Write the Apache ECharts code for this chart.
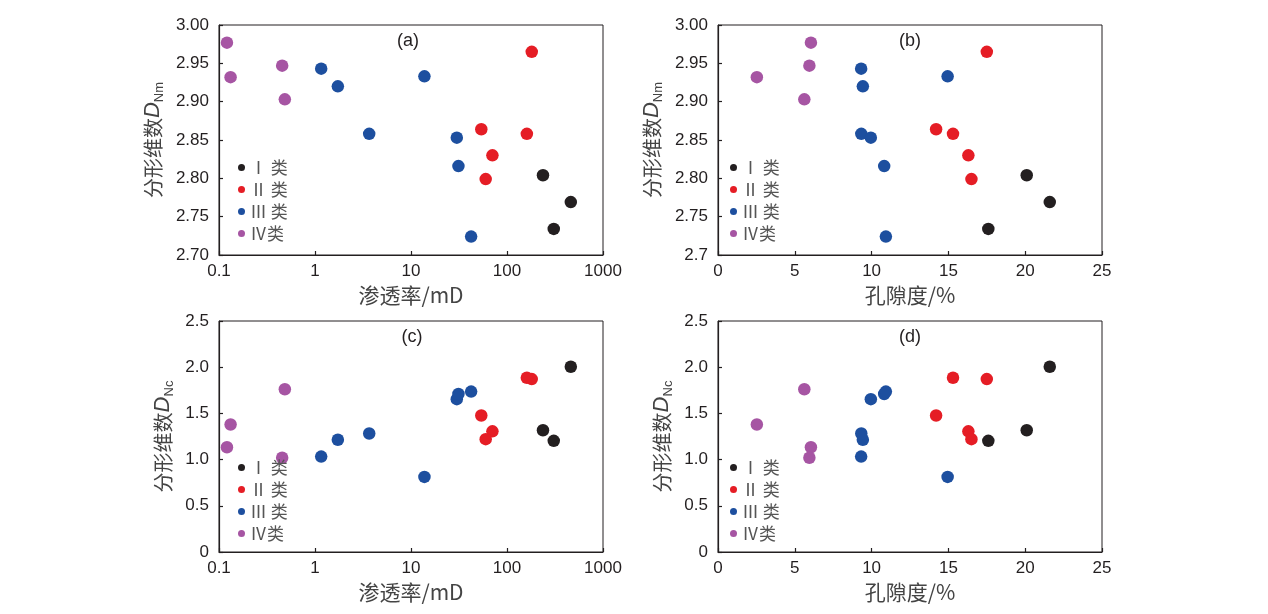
<!DOCTYPE html>
<html>
<head>
<meta charset="utf-8">
<script src="https://cdn.jsdelivr.net/npm/echarts@6/dist/echarts.min.js"></script>
<style>
  html, body { margin: 0; padding: 0; background: #fff; }
  #main { width: 1268px; height: 614px; }
</style>
</head>
<body>
<div id="main"></div>
<script>
// class names and colours
var classNames = ['Ⅰ 类', 'Ⅱ 类', 'Ⅲ 类', 'Ⅳ类'];
var classColors = ['#231f20', '#e51d25', '#1d4f9f', '#a655a3'];

// permeability (mD), porosity (%), DNm, DNc per class
var permI = [237, 462, 307];
var poroI = [20.1, 21.6, 17.6];
var dnmI = [2.804, 2.769, 2.734];
var dncI = [1.318, 2.005, 1.203];

var permII = [181, 54, 161, 70.5, 60];
var poroII = [17.5, 14.2, 15.3, 16.3, 16.5];
var dnmII = [2.965, 2.864, 2.858, 2.830, 2.799];
var dncII = [1.871, 1.477, 1.886, 1.306, 1.221];

var permIII = [1.16, 1.73, 13.8, 3.67, 30, 31.2, 42.3];
var poroIII = [9.32, 9.43, 14.95, 9.33, 9.95, 10.82, 10.93];
var dnmIII = [2.943, 2.920, 2.933, 2.858, 2.853, 2.816, 2.724];
var dncIII = [1.033, 1.215, 0.813, 1.282, 1.654, 1.71, 1.736];

var permIV = [0.121, 0.132, 0.455, 0.485];
var poroIV = [6.05, 2.53, 5.95, 5.62];
var dnmIV = [2.977, 2.932, 2.947, 2.903];
var dncIV = [1.134, 1.38, 1.02, 1.761];

var permAll = [permI, permII, permIII, permIV];
var poroAll = [poroI, poroII, poroIII, poroIV];
var dnmAll = [dnmI, dnmII, dnmIII, dnmIV];
var dncAll = [dncI, dncII, dncIII, dncIV];

var panelLabels = ['(a)', '(b)', '(c)', '(d)'];

var numFont = 'Liberation Sans, Arial, Noto Sans CJK SC, sans-serif';
var cjkFont = 'Noto Sans CJK SC, Liberation Sans, sans-serif';

function zip(xs, ys) {
  var out = [];
  for (var i = 0; i < xs.length; i++) out.push([xs[i], ys[i]]);
  return out;
}

var grids = [
  {left: 219, top: 25, width: 384, height: 230},
  {left: 718, top: 25, width: 384, height: 230},
  {left: 219, top: 321, width: 384, height: 231},
  {left: 718, top: 321, width: 384, height: 231}
];

var axisLineStyle = {color: '#231f20', width: 1.2};

function xAxisFor(i) {
  var common = {
    gridIndex: i,
    nameLocation: 'middle',
    nameGap: 30,
    nameTextStyle: {fontSize: 21, color: '#444', fontFamily: cjkFont},
    axisLine: {show: true, onZero: false, lineStyle: axisLineStyle},
    axisTick: {show: true, inside: true, length: 4, lineStyle: axisLineStyle},
    axisLabel: {fontSize: 17, color: '#231f20', fontFamily: numFont, margin: 8},
    splitLine: {show: false}
  };
  if (i % 2 == 0) {
    common.type = 'log';
    common.logBase = 10;
    common.min = 0.1;
    common.max = 1000;
    common.name = '渗透率/mD';
    common.axisLabel.formatter = function (v) {
      var e = Math.round(Math.log10(v));
      return e < 0 ? '0.1' : String(Math.pow(10, e));
    };
  } else {
    common.type = 'value';
    common.min = 0;
    common.max = 25;
    common.interval = 5;
    common.name = '孔隙度/%';
  }
  return common;
}

function yAxisFor(i) {
  var top = i < 2;
  var ax = {
    gridIndex: i,
    type: 'value',
    nameLocation: 'middle',
    nameRotate: 90,
    nameGap: top ? 53 : 43,
    name: '分形维数{d|D}{s|' + (top ? 'Nm' : 'Nc') + '}',
    nameTextStyle: {
      fontSize: 20, color: '#444', fontFamily: cjkFont, lineHeight: 26,
      rich: {
        d: {fontSize: 22, fontStyle: 'italic', color: '#444', fontFamily: numFont, lineHeight: 26},
        s: {fontSize: 13, color: '#444', fontFamily: numFont, verticalAlign: 'bottom', lineHeight: 14}
      }
    },
    axisLine: {show: true, onZero: false, lineStyle: axisLineStyle},
    axisTick: {show: true, inside: true, length: 4, lineStyle: axisLineStyle},
    axisLabel: {fontSize: 17, color: '#231f20', fontFamily: numFont, margin: 10},
    splitLine: {show: false}
  };
  if (top) {
    ax.min = 2.7; ax.max = 3.0; ax.interval = 0.05;
    ax.axisLabel.formatter = function (v) {
      if (i == 1 && Math.abs(v - 2.7) < 1e-6) return '2.7';
      return v.toFixed(2);
    };
  } else {
    ax.min = 0; ax.max = 2.5; ax.interval = 0.5;
    ax.axisLabel.formatter = function (v) {
      return Math.abs(v) < 1e-6 ? '0' : v.toFixed(1);
    };
  }
  return ax;
}

var series = [];
for (var p = 0; p < 4; p++) {
  for (var c = 0; c < 4; c++) {
    var xs = (p % 2 == 0) ? permAll[c] : poroAll[c];
    var ys = (p < 2) ? dnmAll[c] : dncAll[c];
    series.push({
      type: 'scatter',
      name: classNames[c],
      xAxisIndex: p,
      yAxisIndex: p,
      symbolSize: 12.5,
      itemStyle: {color: classColors[c], opacity: 1},
      data: zip(xs, ys)
    });
  }
}

var legendPos = [
  {left: 238, top: 159},
  {left: 730, top: 159},
  {left: 238, top: 459},
  {left: 730, top: 459}
];
var legends = legendPos.map(function (pos) {
  return {
    left: pos.left, top: pos.top,
    padding: 0,
    orient: 'vertical',
    icon: 'circle',
    itemWidth: 7, itemHeight: 7,
    itemGap: 5,
    selectedMode: false,
    textStyle: {fontSize: 17, color: '#555', fontFamily: cjkFont},
    data: classNames
  };
});

var labelPos = [[408, 41], [910, 41], [412, 337], [910, 337]];
var graphics = labelPos.map(function (pt, k) {
  return {
    type: 'text', x: pt[0], y: pt[1],
    style: {
      text: panelLabels[k], fontSize: 18, fill: '#231f20', fontFamily: numFont,
      textAlign: 'center', textVerticalAlign: 'middle'
    }
  };
});

var chart = echarts.init(document.getElementById('main'));
chart.setOption({
  backgroundColor: '#fff',
  animation: false,
  grid: grids.map(function (g) {
    return Object.assign({show: true, borderColor: '#231f20', borderWidth: 1, backgroundColor: 'transparent'}, g);
  }),
  xAxis: [0, 1, 2, 3].map(xAxisFor),
  yAxis: [0, 1, 2, 3].map(yAxisFor),
  legend: legends,
  graphic: graphics,
  series: series
});
</script>
</body>
</html>
